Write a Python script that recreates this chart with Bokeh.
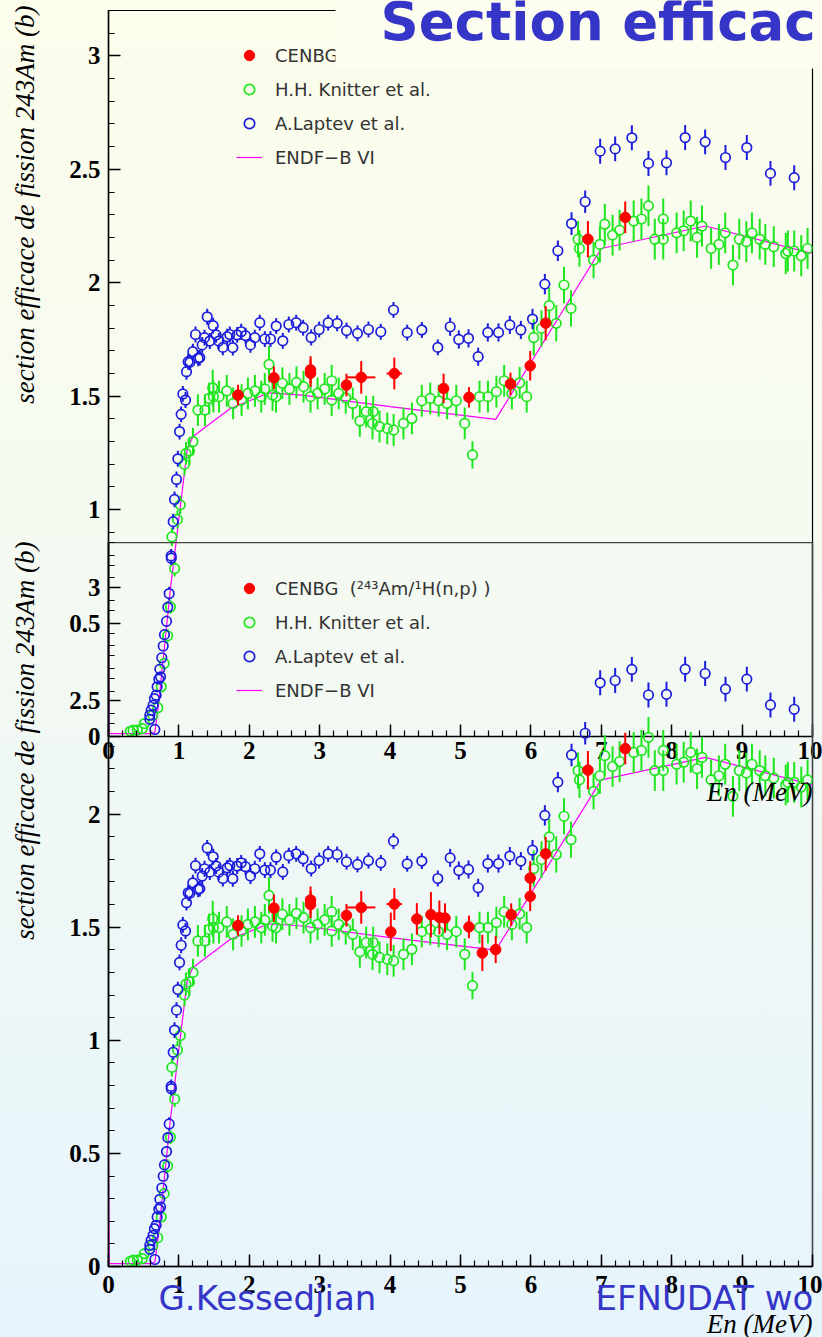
import numpy as np
from bokeh.plotting import figure
from bokeh.models import (Range1d, FixedTicker, CustomJSTickFormatter, Legend, LegendItem,
                          Label, BoxAnnotation)
from bokeh.layouts import column
from bokeh.embed import file_html
from bokeh.resources import INLINE

# ---------------- data ----------------
knitter_x = [0.31, 0.35, 0.41, 0.48, 0.51, 0.63, 0.70, 0.75, 0.79, 0.84,
             0.88, 0.90, 0.94, 0.98, 1.02, 1.08, 1.10, 1.15, 1.20, 1.27,
             1.37, 1.43, 1.48, 1.49, 1.57, 1.68, 1.77, 1.89, 1.98, 2.08,
             2.17, 2.22, 2.28, 2.33, 2.38, 2.47, 2.57, 2.67, 2.77, 2.87,
             2.97, 3.07, 3.17, 3.17, 3.27, 3.37, 3.47, 3.57, 3.66, 3.75,
             3.76, 3.85, 3.96, 4.05, 4.19, 4.31, 4.45, 4.57, 4.69, 4.81,
             4.94, 5.06, 5.17, 5.27, 5.39, 5.51, 5.62, 5.73, 5.84, 5.94,
             6.04, 6.15, 6.26, 6.36, 6.47, 6.57, 6.67, 6.69, 6.89, 6.98,
             7.05, 7.16, 7.26, 7.46, 7.57, 7.67, 7.76, 7.88, 7.88, 8.07,
             8.17, 8.27, 8.36, 8.43, 8.56, 8.67, 8.76, 8.87, 8.96, 9.06,
             9.14, 9.25, 9.33, 9.45, 9.62, 9.65, 9.74, 9.84, 9.93]
knitter_y = [0.023, 0.028, 0.028, 0.035, 0.057, 0.094, 0.127, 0.219, 0.322, 0.444,
             0.571, 0.880, 0.740, 0.957, 1.021, 1.200, 1.248, 1.258, 1.300, 1.439,
             1.439, 1.490, 1.537, 1.498, 1.498, 1.523, 1.468, 1.483, 1.512, 1.523,
             1.498, 1.532, 1.640, 1.505, 1.498, 1.557, 1.532, 1.561, 1.542, 1.498,
             1.512, 1.532, 1.568, 1.483, 1.512, 1.493, 1.468, 1.391, 1.432, 1.380,
             1.432, 1.366, 1.358, 1.351, 1.380, 1.402, 1.480, 1.490, 1.480, 1.468,
             1.480, 1.380, 1.241, 1.498, 1.498, 1.520, 1.568, 1.512, 1.559, 1.498,
             1.759, 1.799, 1.899, 1.821, 1.990, 1.887, 2.192, 2.151, 2.100, 2.169,
             2.258, 2.210, 2.232, 2.272, 2.281, 2.339, 2.192, 2.192, 2.281, 2.220,
             2.229, 2.272, 2.200, 2.250, 2.151, 2.169, 2.220, 2.078, 2.192, 2.181,
             2.220, 2.192, 2.169, 2.159, 2.129, 2.140, 2.140, 2.119, 2.151]
knitter_err = [0.010, 0.010, 0.010, 0.010, 0.015, 0.015, 0.020, 0.020, 0.025, 0.030,
               0.030, 0.040, 0.035, 0.040, 0.040, 0.050, 0.050, 0.060, 0.060, 0.070,
               0.070, 0.070, 0.080, 0.070, 0.070, 0.070, 0.070, 0.070, 0.070, 0.070,
               0.070, 0.070, 0.080, 0.070, 0.070, 0.070, 0.070, 0.070, 0.070, 0.070,
               0.070, 0.070, 0.070, 0.070, 0.070, 0.070, 0.070, 0.070, 0.070, 0.070,
               0.070, 0.070, 0.070, 0.070, 0.070, 0.070, 0.070, 0.070, 0.070, 0.070,
               0.070, 0.070, 0.060, 0.070, 0.070, 0.070, 0.070, 0.070, 0.070, 0.070,
               0.080, 0.080, 0.080, 0.080, 0.080, 0.080, 0.080, 0.080, 0.080, 0.080,
               0.090, 0.090, 0.090, 0.090, 0.090, 0.090, 0.090, 0.090, 0.090, 0.090,
               0.090, 0.090, 0.090, 0.090, 0.090, 0.090, 0.090, 0.090, 0.090, 0.090,
               0.090, 0.090, 0.090, 0.090, 0.090, 0.090, 0.090, 0.090, 0.090]

laptev_x = [0.587, 0.587, 0.606, 0.634, 0.653, 0.658, 0.677, 0.691, 0.715, 0.729,
            0.739, 0.757, 0.777, 0.795, 0.824, 0.843, 0.862, 0.890, 0.892, 0.919,
            0.938, 0.966, 0.985, 1.009, 1.032, 1.056, 1.094, 1.108, 1.132, 1.155,
            1.198, 1.236, 1.274, 1.297, 1.331, 1.364, 1.402, 1.439, 1.487, 1.529,
            1.567, 1.624, 1.686, 1.723, 1.766, 1.828, 1.885, 1.946, 2.017, 2.078,
            2.149, 2.220, 2.301, 2.382, 2.476, 2.561, 2.666, 2.765, 2.879, 2.992,
            3.120, 3.248, 3.381, 3.537, 3.693, 3.868, 4.048, 4.243, 4.451, 4.678,
            4.853, 4.976, 5.114, 5.251, 5.388, 5.540, 5.701, 5.857, 6.023, 6.198,
            6.383, 6.577, 6.771, 6.984, 7.197, 7.434, 7.670, 7.926, 8.191, 8.475,
            8.764, 9.067, 9.403, 9.740]
laptev_y = [0.076, 0.094, 0.116, 0.138, 0.167, 0.031, 0.182, 0.219, 0.253, 0.297,
            0.263, 0.347, 0.399, 0.449, 0.508, 0.570, 0.630, 0.796, 0.786, 0.947,
            1.045, 1.133, 1.224, 1.344, 1.420, 1.510, 1.483, 1.608, 1.652, 1.649,
            1.696, 1.772, 1.667, 1.670, 1.726, 1.758, 1.850, 1.743, 1.811, 1.770,
            1.743, 1.715, 1.762, 1.772, 1.714, 1.770, 1.784, 1.767, 1.726, 1.758,
            1.824, 1.752, 1.752, 1.809, 1.744, 1.816, 1.824, 1.802, 1.759, 1.794,
            1.824, 1.821, 1.789, 1.777, 1.794, 1.784, 1.880, 1.780, 1.792, 1.715,
            1.806, 1.750, 1.755, 1.674, 1.781, 1.781, 1.814, 1.792, 1.840, 1.994,
            2.141, 2.261, 2.357, 2.580, 2.590, 2.639, 2.526, 2.529, 2.640, 2.621,
            2.552, 2.596, 2.482, 2.463]
laptev_err = [0.010, 0.010, 0.010, 0.010, 0.010, 0.010, 0.015, 0.015, 0.015, 0.020,
              0.020, 0.020, 0.020, 0.025, 0.025, 0.025, 0.030, 0.030, 0.030, 0.035,
              0.035, 0.035, 0.035, 0.035, 0.035, 0.035, 0.035, 0.035, 0.035, 0.035,
              0.035, 0.035, 0.035, 0.035, 0.035, 0.035, 0.035, 0.035, 0.035, 0.035,
              0.035, 0.035, 0.035, 0.035, 0.035, 0.035, 0.035, 0.035, 0.035, 0.035,
              0.035, 0.035, 0.035, 0.035, 0.035, 0.035, 0.035, 0.035, 0.035, 0.035,
              0.035, 0.035, 0.035, 0.035, 0.035, 0.035, 0.035, 0.035, 0.035, 0.035,
              0.040, 0.040, 0.040, 0.040, 0.040, 0.040, 0.040, 0.040, 0.045, 0.045,
              0.045, 0.050, 0.050, 0.055, 0.055, 0.055, 0.055, 0.055, 0.055, 0.055,
              0.055, 0.055, 0.055, 0.055]

# CENBG, upper panel
cenbg_top_x = [1.84, 2.35, 2.87, 2.87, 3.38, 3.59, 4.06, 4.76, 5.12, 5.71, 5.99, 6.21, 6.81, 7.34]
cenbg_top_y = [1.505, 1.581, 1.616, 1.601, 1.549, 1.583, 1.600, 1.534, 1.495, 1.554, 1.634, 1.822, 2.192, 2.288]
cenbg_top_ey = [0.045, 0.050, 0.060, 0.060, 0.050, 0.072, 0.070, 0.065, 0.045, 0.050, 0.065, 0.075, 0.080, 0.070]
cenbg_top_ex = [0, 0, 0, 0, 0, 0.20, 0.11, 0, 0, 0, 0, 0, 0, 0]

# CENBG (243Am/1H(n,p)), lower panel
cenbg_bot_x = [1.84, 2.35, 2.87, 2.87, 3.38, 3.59, 4.01, 4.06, 4.38, 4.58, 4.70,
               4.78, 5.12, 5.31, 5.50, 5.72, 5.99, 5.99, 6.21, 6.81, 7.34]
cenbg_bot_y = [1.507, 1.584, 1.620, 1.600, 1.552, 1.587, 1.479, 1.602, 1.536, 1.555, 1.543,
               1.540, 1.501, 1.386, 1.401, 1.555, 1.636, 1.717, 1.824, 2.194, 2.289]
cenbg_bot_ey = [0.045, 0.060, 0.060, 0.060, 0.050, 0.072, 0.085, 0.070, 0.070, 0.100, 0.075,
                0.065, 0.050, 0.080, 0.060, 0.050, 0.065, 0.075, 0.075, 0.085, 0.070]
cenbg_bot_ex = [0, 0, 0, 0, 0, 0.20, 0, 0.11, 0, 0, 0,
                0, 0, 0, 0, 0, 0, 0, 0, 0, 0]

endf_x = [0.0, 0.01, 0.60, 0.66, 0.715, 0.88, 1.12, 1.20, 1.73, 2.28, 2.75, 4.0, 5.50, 7.00, 8.48, 10.0]
endf_y = [0.52, 0.013, 0.013, 0.02, 0.154, 0.652, 1.269, 1.322, 1.446, 1.515, 1.505, 1.454, 1.398, 2.151, 2.250, 2.129]

x_ticks = [0, 1, 2, 3, 4, 5, 6, 7, 8, 9, 10]
y_ticks = [0, 0.5, 1, 1.5, 2, 2.5, 3]

y_title = "section efficace de fission 243Am (b)"
x_title = "En (MeV)"
slide_title = "Section efficac"      # visible part of the slide title
author = "G.Kessedjian"
venue = "EFNUDAT wo"                 # visible part of the footer

# ---------------- styling ----------------
GREEN = "#1ee61e"
BLUE = "#1c1cdc"
RED = "#ff0000"
MAGENTA = "#ff00ff"
TXTBLUE = "#3535c8"

x_minor = np.round(np.arange(0, 10.001, 0.2), 3).tolist()
y_minor = np.round(np.arange(0, 3.2001, 0.1), 3).tolist()


def make_fig(height, b_top, b_bottom):
    p = figure(width=822, height=height, x_range=Range1d(0, 10), y_range=Range1d(0, 3.2),
               output_backend="svg", toolbar_location=None,
               min_border_left=108, min_border_right=10,
               min_border_top=b_top, min_border_bottom=b_bottom)
    p.background_fill_alpha = 0
    p.border_fill_alpha = 0
    p.xgrid.grid_line_color = None
    p.ygrid.grid_line_color = None
    for ax in (p.xaxis[0], p.yaxis[0]):
        ax.axis_line_color = "black"
        ax.axis_line_width = 1.5
        ax.major_tick_in = 12
        ax.major_tick_out = 0
        ax.minor_tick_in = 6
        ax.minor_tick_out = 0
        ax.major_tick_line_color = "black"
        ax.major_tick_line_width = 1.5
        ax.minor_tick_line_color = "black"
        ax.minor_tick_line_width = 1.2
        ax.major_label_text_font = "Liberation Serif"
        ax.major_label_text_font_style = "bold"
        ax.major_label_text_font_size = "25px"
        ax.major_label_text_color = "black"
        ax.formatter = CustomJSTickFormatter(code="return tick.toString();")
    p.xaxis[0].ticker = FixedTicker(ticks=x_ticks, minor_ticks=x_minor)
    p.yaxis[0].ticker = FixedTicker(ticks=y_ticks, minor_ticks=y_minor)
    p.yaxis[0].major_label_standoff = 8
    return p


def err_bars(p, x, y, ey, color, gap, width=2):
    x = np.asarray(x, float); y = np.asarray(y, float); ey = np.asarray(ey, float)
    m = ey > gap
    p.segment(x0=x[m], y0=y[m] + gap, x1=x[m], y1=y[m] + ey[m], line_color=color, line_width=width)
    p.segment(x0=x[m], y0=y[m] - ey[m], x1=x[m], y1=y[m] - gap, line_color=color, line_width=width)


def draw_data(p, cx, cy, cey, cex, cenbg_label, legend_loc):
    gap = 4.8 / 226.5
    r_endf = p.line(endf_x, endf_y, line_color=MAGENTA, line_width=1.2)
    err_bars(p, knitter_x, knitter_y, knitter_err, GREEN, gap)
    r_kn = p.scatter(knitter_x, knitter_y, marker="circle", size=9.5, fill_color=None,
                     line_color=GREEN, line_width=1.7)
    err_bars(p, laptev_x, laptev_y, laptev_err, BLUE, gap)
    r_la = p.scatter(laptev_x, laptev_y, marker="circle", size=9.5, fill_color=None,
                     line_color=BLUE, line_width=1.7)
    cx = np.asarray(cx, float); cy = np.asarray(cy, float)
    cey = np.asarray(cey, float); cex = np.asarray(cex, float)
    p.segment(x0=cx, y0=cy - cey, x1=cx, y1=cy + cey, line_color=RED, line_width=2)
    mh = cex > 0
    p.segment(x0=cx[mh] - cex[mh], y0=cy[mh], x1=cx[mh] + cex[mh], y1=cy[mh],
              line_color=RED, line_width=2)
    r_ce = p.scatter(cx, cy, marker="circle", size=10.5, fill_color=RED, line_color=RED, line_width=1)

    legend = Legend(items=[LegendItem(label=cenbg_label, renderers=[r_ce]),
                           LegendItem(label="H.H. Knitter et al.", renderers=[r_kn]),
                           LegendItem(label="A.Laptev et al.", renderers=[r_la]),
                           LegendItem(label="ENDF\u2212B VI", renderers=[r_endf])],
                    location=legend_loc, orientation="vertical",
                    glyph_width=26, glyph_height=34, label_height=34, label_width=20,
                    label_standoff=13, spacing=0, padding=0, margin=0,
                    background_fill_alpha=0, border_line_alpha=0,
                    label_text_font="DejaVu Sans", label_text_font_size="18px",
                    label_text_color="#333333")
    p.add_layout(legend)


# ---------------- upper panel ----------------
p1 = make_fig(800, 10, 64)
p1.outline_line_color = "black"
p1.outline_line_width = 1.2
draw_data(p1, cenbg_top_x, cenbg_top_y, cenbg_top_ey, cenbg_top_ex, "CENBG", (128, 562))

# ---------------- lower panel ----------------
p2 = make_fig(795, 0, 71)
p2.outline_line_color = "#444444"
p2.outline_line_width = 1.6
p2.xaxis[0].major_label_standoff = 9
draw_data(p2, cenbg_bot_x, cenbg_bot_y, cenbg_bot_ey, cenbg_bot_ex,
          "CENBG  (\u00b2\u2074\u00b3Am/\u00b9H(n,p) )", (128, 559))
p2.margin = (-258, 0, 0, 0)

# ---------------- slide overlay (free texts, page-pixel coordinates) ----------------
p3 = figure(width=822, height=1337, x_range=Range1d(0, 822), y_range=Range1d(1337, 0),
            output_backend="svg", toolbar_location=None,
            x_axis_location=None, y_axis_location=None,
            min_border_left=0, min_border_right=0, min_border_top=0, min_border_bottom=0)
try:
    p3.frame_align = False
except Exception:
    pass
p3.background_fill_alpha = 0
p3.border_fill_alpha = 0
p3.outline_line_color = None
p3.grid.visible = False
p3.margin = (-1337, 0, 0, 0)

# title box of the slide covering the upper frame corner
p3.add_layout(BoxAnnotation(left=335, right=822, top=0, bottom=68,
                            fill_color="#fefef0", fill_alpha=1, line_alpha=0))
p3.add_layout(Label(x=380, y=21, text=slide_title, text_font="DejaVu Sans",
                    text_font_style="bold", text_font_size="53px", text_color=TXTBLUE,
                    text_baseline="middle"))
for ya in (5, 541):
    p3.add_layout(Label(x=24, y=ya, text=y_title, text_font="Liberation Serif",
                        text_font_style="italic", text_font_size="27px", text_color="black",
                        angle=np.pi / 2, text_align="right", text_baseline="middle"))
for ya in (791, 1323):
    p3.add_layout(Label(x=812, y=ya, text=x_title, text_font="Liberation Serif",
                        text_font_style="italic", text_font_size="27px", text_color="black",
                        text_align="right", text_baseline="middle"))
p3.add_layout(Label(x=158, y=1297, text=author, text_font="DejaVu Sans",
                    text_font_size="34px", text_color=TXTBLUE, text_baseline="middle"))
p3.add_layout(Label(x=595, y=1297, text=venue, text_font="DejaVu Sans",
                    text_font_size="34px", text_color=TXTBLUE, text_baseline="middle"))

layout = column(p1, p2, p3, spacing=0,
                styles={"background": "linear-gradient(to bottom, #fcfdeb 0%, #f4faf2 45%, #e6f4fc 100%)"})

open("out.html", "w").write(file_html(layout, INLINE))
